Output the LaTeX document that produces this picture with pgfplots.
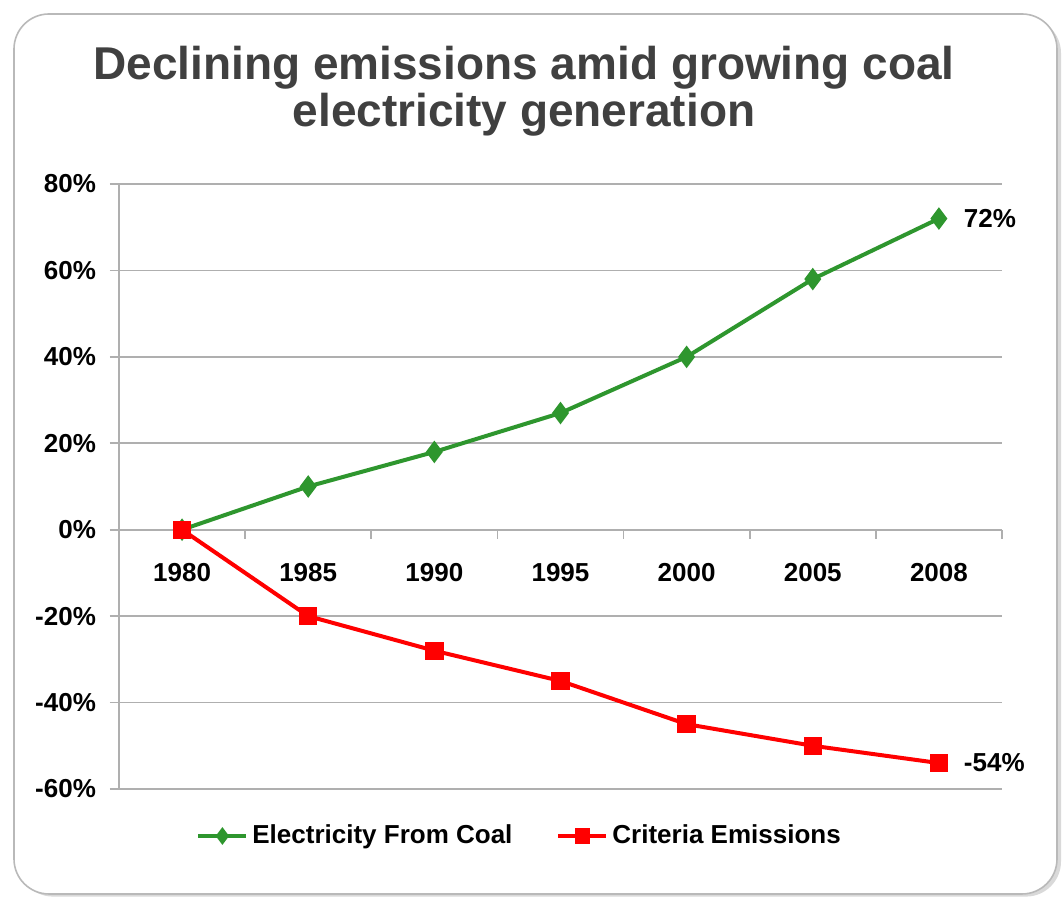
\documentclass[border=0pt]{standalone}
\usepackage{fontspec}
\setmainfont{Liberation Sans}
\usepackage{pgfplots}
\usepackage{pgfplotstable}
\pgfplotsset{compat=1.18}

\definecolor{coalgreen}{RGB}{46,150,46}
\definecolor{emired}{RGB}{255,0,0}
\definecolor{gridgray}{RGB}{175,175,175}
\definecolor{titlegray}{RGB}{64,64,64}

% idx = category position, change vs 1980 in percent
\pgfplotstableread{
idx year coal emis
0 1980 0 0
1 1985 10 -20
2 1990 18 -28
3 1995 27 -35
4 2000 40 -45
5 2005 58 -50
6 2008 72 -54
}\datatable

\begin{document}
\begin{tikzpicture}[x=1pt,y=1pt]
\path[use as bounding box] (0,0) rectangle (531,448.5);
% frame with a faint shadow
\fill[black!15, rounded corners=17.5pt] (9,0.2) rectangle (530.5,439.5);
\draw[gray!55, fill=white, line width=0.8pt, rounded corners=17.5pt] (7,1.5) rectangle (528.5,441.5);

\node[anchor=base, font=\fontsize{23}{28}\selectfont\bfseries, text=titlegray] at (262,408.5) {Declining emissions amid growing coal};
\node[anchor=base, font=\fontsize{23}{28}\selectfont\bfseries, text=titlegray] at (262,385) {electricity generation};

\begin{axis}[
    at={(59.5pt,54pt)}, anchor=south west,
    scale only axis,
    width=441.5pt, height=302.5pt,
    xmin=-0.5, xmax=6.5,
    ymin=-60, ymax=80,
    axis x line*=middle,
    axis y line*=left,
    axis line style={gridgray, line width=0.9pt},
    tick style={gridgray, line width=0.9pt},
    tick align=outside,
    major tick length=4.5pt,
    minor tick length=4.5pt,
    xtick={0,...,6},
    xticklabels={1980,1985,1990,1995,2000,2005,2008},
    major x tick style={draw=none},
    minor x tick style={draw=gridgray, line width=0.9pt},
    minor xtick={-0.5,0.5,...,6.5},
    ytick={-60,-40,...,80},
    yticklabel={\pgfmathprintnumber{\tick}\%},
    ymajorgrids,
    grid style={gridgray, line width=0.9pt},
    /pgf/number format/assume math mode=true,
    ticklabel style={font=\fontsize{13}{15}\selectfont\bfseries, text=black},
    xticklabel style={yshift=-9pt},
    yticklabel style={xshift=-3.5pt},
    clip=false,
    legend style={at={(axis description cs:0.0872,-0.0777)}, anchor=west,
        draw=none, fill=none, inner sep=0pt,
        font=\fontsize{13}{15}\selectfont\bfseries,
        /tikz/every even column/.append style={column sep=20pt}},
    legend columns=2,
    legend cell align=left,
    legend image code/.code={\draw[mark repeat=2,mark phase=2,#1,mark size=2.8pt] plot coordinates {(0pt,0pt)(12pt,0pt)(24pt,0pt)};},
]
\addplot[coalgreen, line width=2pt, mark=diamond*, mark size=4pt] table[x=idx, y=coal]{\datatable};
\addlegendentry{Electricity From Coal}
\addplot[emired, line width=2pt, mark=square*, mark size=3.6pt] table[x=idx, y=emis]{\datatable};
\addlegendentry{Criteria Emissions}

\node[anchor=west, xshift=9pt, font=\fontsize{13}{15}\selectfont\bfseries] at (axis cs:6,72) {72\%};
\node[anchor=west, xshift=9pt, font=\fontsize{13}{15}\selectfont\bfseries] at (axis cs:6,-54) {-54\%};
\end{axis}
\end{tikzpicture}
\end{document}
